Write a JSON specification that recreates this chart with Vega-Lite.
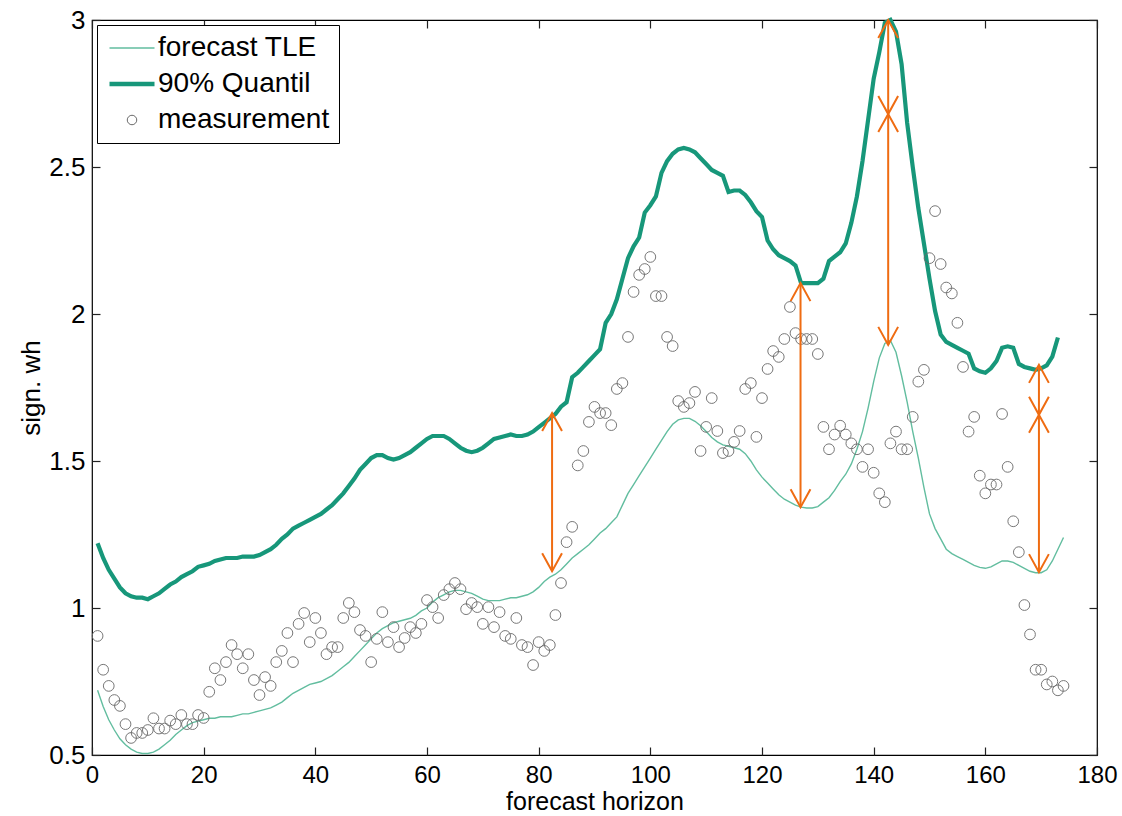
{
  "$schema": "https://vega.github.io/schema/vega-lite/v6.json",
  "width": 1005,
  "height": 735,
  "autosize": {"type": "none"},
  "padding": {"left": 92, "top": 20, "right": 25, "bottom": 61},
  "background": "white",
  "config": {
    "view": {"stroke": "black", "strokeWidth": 1.2},
    "font": "Liberation Sans",
    "axis": {"grid": false, "domain": false, "ticks": true, "tickSize": -8, "tickColor": "#222222", "tickWidth": 1.2, "labelFont": "Liberation Sans", "labelFontSize": 26, "labelColor": "black", "titleFont": "Liberation Sans", "titleFontSize": 26, "titleFontWeight": "normal", "titleColor": "black", "labelOverlap": false, "labelFlush": false, "labelBound": false}
  },
  "datasets": {
    "series": [
      {"x":1,"tle":0.72,"q90":1.22,"meas":0.905},
      {"x":2,"tle":0.665,"q90":1.17,"meas":0.79},
      {"x":3,"tle":0.62,"q90":1.13,"meas":0.735},
      {"x":4,"tle":0.585,"q90":1.10,"meas":0.687},
      {"x":5,"tle":0.555,"q90":1.07,"meas":0.667},
      {"x":6,"tle":0.535,"q90":1.05,"meas":0.605},
      {"x":7,"tle":0.52,"q90":1.04,"meas":0.558},
      {"x":8,"tle":0.51,"q90":1.035,"meas":0.575},
      {"x":9,"tle":0.505,"q90":1.035,"meas":0.575},
      {"x":10,"tle":0.505,"q90":1.03,"meas":0.585},
      {"x":11,"tle":0.51,"q90":1.04,"meas":0.625},
      {"x":12,"tle":0.52,"q90":1.05,"meas":0.59},
      {"x":13,"tle":0.535,"q90":1.065,"meas":0.59},
      {"x":14,"tle":0.55,"q90":1.08,"meas":0.617},
      {"x":15,"tle":0.57,"q90":1.09,"meas":0.605},
      {"x":16,"tle":0.585,"q90":1.105,"meas":0.636},
      {"x":17,"tle":0.60,"q90":1.115,"meas":0.605},
      {"x":18,"tle":0.61,"q90":1.125,"meas":0.605},
      {"x":19,"tle":0.615,"q90":1.14,"meas":0.636},
      {"x":20,"tle":0.62,"q90":1.145,"meas":0.626},
      {"x":21,"tle":0.625,"q90":1.15,"meas":0.715},
      {"x":22,"tle":0.625,"q90":1.16,"meas":0.795},
      {"x":23,"tle":0.63,"q90":1.165,"meas":0.755},
      {"x":24,"tle":0.63,"q90":1.17,"meas":0.816},
      {"x":25,"tle":0.63,"q90":1.17,"meas":0.874},
      {"x":26,"tle":0.635,"q90":1.17,"meas":0.843},
      {"x":27,"tle":0.64,"q90":1.175,"meas":0.795},
      {"x":28,"tle":0.64,"q90":1.175,"meas":0.843},
      {"x":29,"tle":0.645,"q90":1.175,"meas":0.755},
      {"x":30,"tle":0.65,"q90":1.18,"meas":0.704},
      {"x":31,"tle":0.655,"q90":1.19,"meas":0.765},
      {"x":32,"tle":0.66,"q90":1.20,"meas":0.735},
      {"x":33,"tle":0.67,"q90":1.215,"meas":0.816},
      {"x":34,"tle":0.68,"q90":1.235,"meas":0.854},
      {"x":35,"tle":0.695,"q90":1.25,"meas":0.915},
      {"x":36,"tle":0.71,"q90":1.27,"meas":0.816},
      {"x":37,"tle":0.72,"q90":1.28,"meas":0.946},
      {"x":38,"tle":0.73,"q90":1.29,"meas":0.983},
      {"x":39,"tle":0.74,"q90":1.30,"meas":0.884},
      {"x":40,"tle":0.745,"q90":1.31,"meas":0.966},
      {"x":41,"tle":0.75,"q90":1.32,"meas":0.915},
      {"x":42,"tle":0.76,"q90":1.335,"meas":0.843},
      {"x":43,"tle":0.77,"q90":1.35,"meas":0.867},
      {"x":44,"tle":0.785,"q90":1.37,"meas":0.867},
      {"x":45,"tle":0.80,"q90":1.39,"meas":0.966},
      {"x":46,"tle":0.815,"q90":1.415,"meas":1.017},
      {"x":47,"tle":0.835,"q90":1.44,"meas":0.986},
      {"x":48,"tle":0.855,"q90":1.47,"meas":0.925},
      {"x":49,"tle":0.875,"q90":1.49,"meas":0.905},
      {"x":50,"tle":0.895,"q90":1.51,"meas":0.816},
      {"x":51,"tle":0.915,"q90":1.52,"meas":0.895},
      {"x":52,"tle":0.93,"q90":1.52,"meas":0.986},
      {"x":53,"tle":0.94,"q90":1.51,"meas":0.884},
      {"x":54,"tle":0.95,"q90":1.505,"meas":0.935},
      {"x":55,"tle":0.955,"q90":1.51,"meas":0.867},
      {"x":56,"tle":0.96,"q90":1.52,"meas":0.898},
      {"x":57,"tle":0.965,"q90":1.53,"meas":0.935},
      {"x":58,"tle":0.975,"q90":1.545,"meas":0.915},
      {"x":59,"tle":0.99,"q90":1.56,"meas":0.946},
      {"x":60,"tle":1.00,"q90":1.575,"meas":1.027},
      {"x":61,"tle":1.02,"q90":1.585,"meas":1.003},
      {"x":62,"tle":1.035,"q90":1.585,"meas":0.966},
      {"x":63,"tle":1.045,"q90":1.585,"meas":1.044},
      {"x":64,"tle":1.055,"q90":1.575,"meas":1.064},
      {"x":65,"tle":1.06,"q90":1.56,"meas":1.085},
      {"x":66,"tle":1.06,"q90":1.545,"meas":1.064},
      {"x":67,"tle":1.055,"q90":1.535,"meas":0.996},
      {"x":68,"tle":1.05,"q90":1.53,"meas":1.017},
      {"x":69,"tle":1.04,"q90":1.535,"meas":1.003},
      {"x":70,"tle":1.03,"q90":1.545,"meas":0.946},
      {"x":71,"tle":1.025,"q90":1.56,"meas":1.003},
      {"x":72,"tle":1.025,"q90":1.575,"meas":0.935},
      {"x":73,"tle":1.025,"q90":1.58,"meas":0.986},
      {"x":74,"tle":1.03,"q90":1.585,"meas":0.905},
      {"x":75,"tle":1.035,"q90":1.59,"meas":0.895},
      {"x":76,"tle":1.035,"q90":1.585,"meas":0.966},
      {"x":77,"tle":1.04,"q90":1.585,"meas":0.874},
      {"x":78,"tle":1.045,"q90":1.59,"meas":0.867},
      {"x":79,"tle":1.055,"q90":1.60,"meas":0.806},
      {"x":80,"tle":1.07,"q90":1.615,"meas":0.884},
      {"x":81,"tle":1.09,"q90":1.63,"meas":0.854},
      {"x":82,"tle":1.105,"q90":1.645,"meas":0.874},
      {"x":83,"tle":1.115,"q90":1.66,"meas":0.976},
      {"x":84,"tle":1.13,"q90":1.685,"meas":1.085},
      {"x":85,"tle":1.15,"q90":1.70,"meas":1.224},
      {"x":86,"tle":1.17,"q90":1.785,"meas":1.276},
      {"x":87,"tle":1.185,"q90":1.80,"meas":1.485},
      {"x":88,"tle":1.20,"q90":1.82,"meas":1.534},
      {"x":89,"tle":1.215,"q90":1.84,"meas":1.633},
      {"x":90,"tle":1.235,"q90":1.86,"meas":1.684},
      {"x":91,"tle":1.255,"q90":1.88,"meas":1.663},
      {"x":92,"tle":1.27,"q90":1.97,"meas":1.663},
      {"x":93,"tle":1.29,"q90":2.00,"meas":1.622},
      {"x":94,"tle":1.31,"q90":2.05,"meas":1.745},
      {"x":95,"tle":1.35,"q90":2.12,"meas":1.765},
      {"x":96,"tle":1.39,"q90":2.19,"meas":1.922},
      {"x":97,"tle":1.42,"q90":2.23,"meas":2.075},
      {"x":98,"tle":1.45,"q90":2.26,"meas":2.133},
      {"x":99,"tle":1.48,"q90":2.345,"meas":2.153},
      {"x":100,"tle":1.51,"q90":2.37,"meas":2.194},
      {"x":101,"tle":1.54,"q90":2.40,"meas":2.061},
      {"x":102,"tle":1.57,"q90":2.48,"meas":2.061},
      {"x":103,"tle":1.60,"q90":2.52,"meas":1.922},
      {"x":104,"tle":1.625,"q90":2.545,"meas":1.891},
      {"x":105,"tle":1.64,"q90":2.56,"meas":1.704},
      {"x":106,"tle":1.645,"q90":2.565,"meas":1.684},
      {"x":107,"tle":1.645,"q90":2.56,"meas":1.697},
      {"x":108,"tle":1.635,"q90":2.55,"meas":1.735},
      {"x":109,"tle":1.62,"q90":2.53,"meas":1.534},
      {"x":110,"tle":1.60,"q90":2.51,"meas":1.616},
      {"x":111,"tle":1.58,"q90":2.49,"meas":1.714},
      {"x":112,"tle":1.565,"q90":2.48,"meas":1.602},
      {"x":113,"tle":1.555,"q90":2.47,"meas":1.527},
      {"x":114,"tle":1.55,"q90":2.415,"meas":1.534},
      {"x":115,"tle":1.545,"q90":2.42,"meas":1.565},
      {"x":116,"tle":1.54,"q90":2.42,"meas":1.602},
      {"x":117,"tle":1.525,"q90":2.405,"meas":1.745},
      {"x":118,"tle":1.50,"q90":2.38,"meas":1.765},
      {"x":119,"tle":1.47,"q90":2.35,"meas":1.582},
      {"x":120,"tle":1.445,"q90":2.33,"meas":1.714},
      {"x":121,"tle":1.425,"q90":2.25,"meas":1.813},
      {"x":122,"tle":1.405,"q90":2.22,"meas":1.874},
      {"x":123,"tle":1.385,"q90":2.20,"meas":1.854},
      {"x":124,"tle":1.37,"q90":2.19,"meas":1.915},
      {"x":125,"tle":1.36,"q90":2.18,"meas":2.024},
      {"x":126,"tle":1.35,"q90":2.165,"meas":1.935},
      {"x":127,"tle":1.343,"q90":2.105,"meas":1.915},
      {"x":128,"tle":1.34,"q90":2.105,"meas":1.915},
      {"x":129,"tle":1.34,"q90":2.105,"meas":1.915},
      {"x":130,"tle":1.345,"q90":2.105,"meas":1.864},
      {"x":131,"tle":1.36,"q90":2.12,"meas":1.616},
      {"x":132,"tle":1.375,"q90":2.18,"meas":1.54},
      {"x":133,"tle":1.40,"q90":2.195,"meas":1.59},
      {"x":134,"tle":1.43,"q90":2.21,"meas":1.62},
      {"x":135,"tle":1.455,"q90":2.24,"meas":1.59},
      {"x":136,"tle":1.49,"q90":2.31,"meas":1.56},
      {"x":137,"tle":1.54,"q90":2.40,"meas":1.54},
      {"x":138,"tle":1.60,"q90":2.52,"meas":1.48},
      {"x":139,"tle":1.68,"q90":2.66,"meas":1.54},
      {"x":140,"tle":1.77,"q90":2.80,"meas":1.46},
      {"x":141,"tle":1.85,"q90":2.89,"meas":1.39},
      {"x":142,"tle":1.90,"q90":2.99,"meas":1.36},
      {"x":143,"tle":1.91,"q90":3.00,"meas":1.56},
      {"x":144,"tle":1.87,"q90":2.96,"meas":1.60},
      {"x":145,"tle":1.79,"q90":2.85,"meas":1.54},
      {"x":146,"tle":1.70,"q90":2.65,"meas":1.54},
      {"x":147,"tle":1.60,"q90":2.50,"meas":1.65},
      {"x":148,"tle":1.51,"q90":2.36,"meas":1.77},
      {"x":149,"tle":1.41,"q90":2.24,"meas":1.81},
      {"x":150,"tle":1.32,"q90":2.12,"meas":2.19},
      {"x":151,"tle":1.27,"q90":2.01,"meas":2.35},
      {"x":152,"tle":1.235,"q90":1.93,"meas":2.17},
      {"x":153,"tle":1.20,"q90":1.905,"meas":2.09},
      {"x":154,"tle":1.185,"q90":1.895,"meas":2.07},
      {"x":155,"tle":1.175,"q90":1.885,"meas":1.97},
      {"x":156,"tle":1.165,"q90":1.875,"meas":1.82},
      {"x":157,"tle":1.155,"q90":1.865,"meas":1.60},
      {"x":158,"tle":1.145,"q90":1.815,"meas":1.65},
      {"x":159,"tle":1.138,"q90":1.805,"meas":1.45},
      {"x":160,"tle":1.135,"q90":1.80,"meas":1.39},
      {"x":161,"tle":1.14,"q90":1.815,"meas":1.42},
      {"x":162,"tle":1.15,"q90":1.84,"meas":1.42},
      {"x":163,"tle":1.16,"q90":1.885,"meas":1.66},
      {"x":164,"tle":1.16,"q90":1.89,"meas":1.48},
      {"x":165,"tle":1.155,"q90":1.885,"meas":1.295},
      {"x":166,"tle":1.145,"q90":1.83,"meas":1.19},
      {"x":167,"tle":1.135,"q90":1.82,"meas":1.01},
      {"x":168,"tle":1.125,"q90":1.815,"meas":0.91},
      {"x":169,"tle":1.12,"q90":1.81,"meas":0.79},
      {"x":170,"tle":1.12,"q90":1.815,"meas":0.79},
      {"x":171,"tle":1.13,"q90":1.825,"meas":0.74},
      {"x":172,"tle":1.16,"q90":1.855,"meas":0.75},
      {"x":173,"tle":1.20,"q90":1.92,"meas":0.72},
      {"x":174,"tle":1.24,"q90":null,"meas":0.735}
    ],
    "arrows": [
      {"x":82.4,"top":1.663,"bottom":1.125},
      {"x":126.9,"top":2.105,"bottom":1.343},
      {"x":142.6,"top":3.0,"bottom":1.895},
      {"x":169.6,"top":1.827,"bottom":1.122}
    ],
    "heads": [
      {"x":82.4,"y":1.663,"dir":"up"},
      {"x":82.4,"y":1.125,"dir":"down"},
      {"x":126.9,"y":2.105,"dir":"up"},
      {"x":126.9,"y":1.343,"dir":"down"},
      {"x":142.6,"y":3.0,"dir":"up"},
      {"x":142.6,"y":2.68,"dir":"down"},
      {"x":142.6,"y":2.68,"dir":"up"},
      {"x":142.6,"y":1.895,"dir":"down"},
      {"x":169.6,"y":1.827,"dir":"up"},
      {"x":169.6,"y":1.657,"dir":"down"},
      {"x":169.6,"y":1.657,"dir":"up"},
      {"x":169.6,"y":1.122,"dir":"down"}
    ]
  },
  "layer": [
    {
      "data": {"name": "series"},
      "mark": {"type": "line", "strokeWidth": 1.4},
      "encoding": {
        "x": {"field": "x", "type": "quantitative", "scale": {"domain": [0, 180], "nice": false, "zero": false},
              "axis": {"orient": "bottom", "values": [0,20,40,60,80,100,120,140,160,180], "title": "forecast horizon", "labelFontSize": 24, "labelPadding": 16, "titlePadding": 2, "titleFontSize": 25}},
        "y": {"field": "tle", "type": "quantitative", "scale": {"domain": [0.5, 3], "nice": false, "zero": false},
              "axis": {"orient": "left", "values": [0.5,1,1.5,2,2.5,3], "format": "~g", "title": "sign. wh", "labelPadding": 15, "titlePadding": 4}},
        "color": {"datum": "forecast TLE", "type": "nominal",
          "scale": {"domain": ["forecast TLE", "90% Quantil", "measurement"], "range": ["#62bd9f", "#17977a", "#6a6a6a"]},
          "legend": {"title": null, "orient": "top-left", "offset": 5, "padding": 9, "strokeColor": "black", "fillColor": "white",
            "labelFont": "Liberation Sans", "labelFontSize": 28, "labelColor": "black", "labelOffset": 12, "labelLimit": 0,
            "symbolSize": 2025, "rowPadding": 8, "symbolOffset": 12, "symbolType": "stroke", "symbolStrokeWidth": 1.5,
            "encode": {"symbols": {"update": {
              "shape": {"signal": "datum.value === 'measurement' ? 'circle' : 'stroke'"},
              "size": {"signal": "datum.value === 'measurement' ? 90 : 2025"},
              "strokeWidth": {"signal": "datum.value === '90% Quantil' ? 4.5 : (datum.value === 'measurement' ? 1 : 1.5)"},
              "fill": {"value": "transparent"},
              "stroke": {"signal": "scale('color', datum.value)"},
              "opacity": {"value": 1}
            }}}}
        }
      }
    },
    {
      "data": {"name": "series"},
      "mark": {"type": "line", "strokeWidth": 4.2},
      "encoding": {
        "x": {"field": "x", "type": "quantitative", "axis": {"orient": "top", "values": [0,20,40,60,80,100,120,140,160,180], "labels": false, "title": null}},
        "y": {"field": "q90", "type": "quantitative", "axis": {"orient": "right", "values": [0.5,1,1.5,2,2.5,3], "labels": false, "title": null}},
        "color": {"datum": "90% Quantil", "type": "nominal"}
      }
    },
    {
      "data": {"name": "series"},
      "mark": {"type": "point", "filled": false, "size": 115, "strokeWidth": 1, "opacity": 0.9},
      "encoding": {
        "x": {"field": "x", "type": "quantitative", "axis": null},
        "y": {"field": "meas", "type": "quantitative", "axis": null},
        "color": {"datum": "measurement", "type": "nominal"}
      }
    },
    {
      "mark": {"type": "rule", "color": "#ef6c12", "strokeWidth": 2},
      "encoding": {"y": {"datum": 1.5, "type": "quantitative", "axis": null}}
    },
    {
      "data": {"name": "arrows"},
      "mark": {"type": "rule", "color": "#ef6c12", "strokeWidth": 2},
      "encoding": {
        "x": {"field": "x", "type": "quantitative", "axis": null},
        "y": {"field": "top", "type": "quantitative", "axis": null},
        "y2": {"field": "bottom"}
      }
    },
    {
      "data": {"name": "heads"},
      "mark": {"type": "point", "filled": false, "strokeWidth": 2, "color": "#ef6c12", "opacity": 1, "size": 1296},
      "encoding": {
        "x": {"field": "x", "type": "quantitative", "axis": null},
        "y": {"field": "y", "type": "quantitative", "axis": null},
        "shape": {"field": "dir", "type": "nominal", "legend": null,
          "scale": {"domain": ["up", "down"], "range": ["M-0.55,1L0,0L0.55,1", "M-0.55,-1L0,0L0.55,-1"]}}
      }
    }
  ],
  "resolve": {"axis": {"x": "independent", "y": "independent"}}
}
